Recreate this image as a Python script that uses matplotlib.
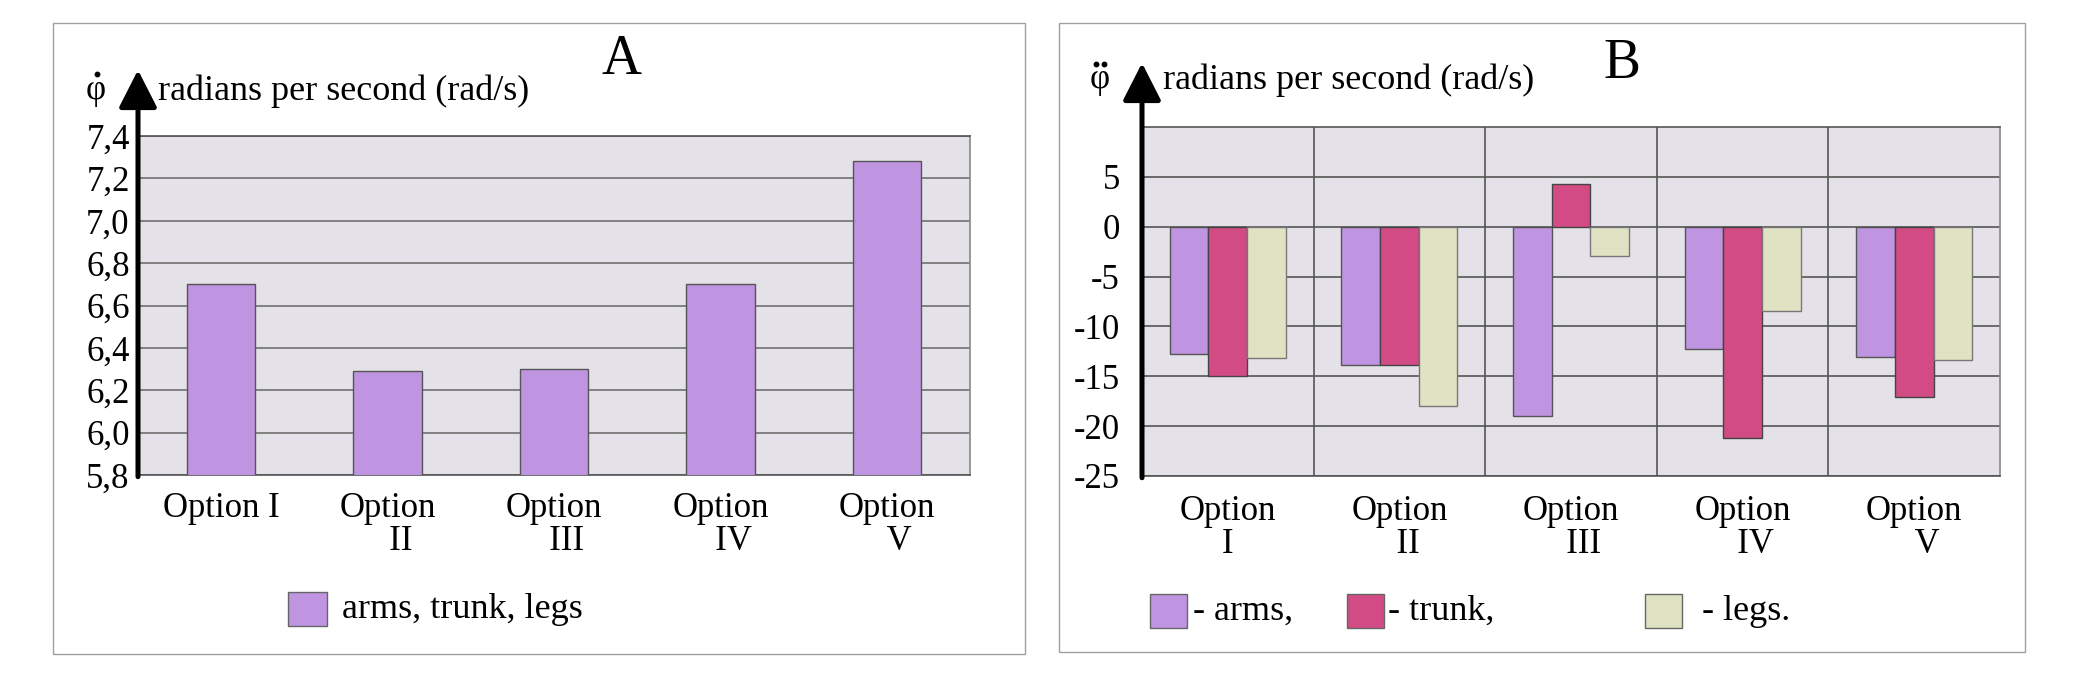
import matplotlib.pyplot as plt
from matplotlib.patches import Rectangle
from matplotlib.lines import Line2D

plt.rcParams['font.family'] = ['Liberation Serif', 'DejaVu Serif']

W, H = 2083, 680

# Panel A data
options_a = ['Option I', 'Option\n   II', 'Option\n   III', 'Option\n   IV', 'Option\n   V']
speed_all = [6.70, 6.29, 6.30, 6.70, 7.28]
yticks_a = [5.8, 6.0, 6.2, 6.4, 6.6, 6.8, 7.0, 7.2, 7.4]
ylabels_a = ['5,8', '6,0', '6,2', '6,4', '6,6', '6,8', '7,0', '7,2', '7,4']

# Panel B data
options_b = ['Option\nI', 'Option\n  II', 'Option\n   III', 'Option\n   IV', 'Option\n   V']
acc_arms = [-12.8, -13.9, -19.0, -12.3, -13.1]
acc_trunk = [-15.0, -13.9, 4.3, -21.2, -17.1]
acc_legs = [-13.2, -18.0, -2.9, -8.5, -13.4]
yticks_b = [5, 0, -5, -10, -15, -20, -25]
ylabels_b = ['5', '0', '-5', '-10', '-15', '-20', '-25']

c_arms = '#bf94e0'
c_trunk = '#d24b85'
c_legs = '#e0e3c3'
bg = '#e4e2e8'
FS = 25


def fx(px):
    return px / W


def fy(py):
    return 1 - py / H


fig = plt.figure(figsize=(W / 100, H / 100), dpi=100)

# frames around both panels
fig.add_artist(Rectangle((fx(53), fy(654)), (1025 - 53) / W, (654 - 23) / H,
                         transform=fig.transFigure, fill=False, ec='#a0a0a0', lw=1))
fig.add_artist(Rectangle((fx(1059), fy(652)), (2025 - 1059) / W, (652 - 23) / H,
                         transform=fig.transFigure, fill=False, ec='#a0a0a0', lw=1))


def style_axes(ax, tip):
    ax.set_facecolor(bg)
    ax.spines['left'].set_visible(False)
    ax.spines['top'].set_color('#555555')
    ax.spines['right'].set_color('#888888')
    ax.spines['bottom'].set_color('#555555')
    for s in ['top', 'right', 'bottom']:
        ax.spines[s].set_linewidth(1.2)
    ax.tick_params(length=0, labelsize=FS)
    ax.annotate('', xy=(0, tip), xytext=(0, -0.005), xycoords='axes fraction',
                arrowprops=dict(arrowstyle='-|>,head_length=0.55,head_width=0.28',
                                lw=3.6, color='black', mutation_scale=42,
                                shrinkA=0, shrinkB=0),
                annotation_clip=False)


def phi_label(x, base, dots_x, dots_y):
    # phi with its time-derivative dots drawn above it
    fig.text(fx(x), fy(base), 'φ', fontsize=FS, ha='center', va='baseline')
    fig.add_artist(Line2D([fx(d) for d in dots_x], [fy(dots_y)] * len(dots_x),
                          transform=fig.transFigure, ls='none', marker='o',
                          ms=3.2, color='black'))


# ---- Panel A ----
axA = fig.add_axes([fx(138), fy(475), (970 - 138) / W, (475 - 136) / H])
style_axes(axA, (475 - 70) / (475 - 136))
xa = range(len(options_a))
axA.bar(xa, speed_all, width=0.41, color=c_arms, edgecolor='#555555', lw=1, zorder=3)
axA.set_xlim(-0.5, 4.5)
axA.set_ylim(5.8, 7.4)
axA.set_yticks(yticks_a)
axA.set_yticklabels(ylabels_a)
axA.yaxis.grid(True, color='#707070', lw=1.2, zorder=0)
axA.set_axisbelow(True)
axA.set_xticks(list(xa))
axA.set_xticklabels(options_a, linespacing=1.0, va='top')
axA.tick_params(axis='x', pad=12)
axA.tick_params(axis='y', pad=6)

fig.text(fx(622), fy(60), 'A', fontsize=40, ha='center', va='center')
phi_label(96, 99, [97], 74)
fig.text(fx(158), fy(91), 'radians per second (rad/s)', fontsize=26, ha='left', va='center')

fig.add_artist(Rectangle((fx(288), fy(626)), 39 / W, 34 / H, transform=fig.transFigure,
                         fc=c_arms, ec='#666666', lw=1))
fig.text(fx(342), fy(610), 'arms, trunk, legs', fontsize=26, ha='left', va='center')

# ---- Panel B ----
axB = fig.add_axes([fx(1142), fy(476), (2000 - 1142) / W, (476 - 127) / H])
style_axes(axB, (476 - 63) / (476 - 127))
xb = list(range(len(options_b)))
bw = 0.225
axB.bar([i - bw for i in xb], acc_arms, width=bw, color=c_arms, edgecolor='#555555', lw=1, zorder=3)
axB.bar(xb, acc_trunk, width=bw, color=c_trunk, edgecolor='#444444', lw=1, zorder=3)
axB.bar([i + bw for i in xb], acc_legs, width=bw, color=c_legs, edgecolor='#777777', lw=1, zorder=3)
axB.set_xlim(-0.5, 4.5)
axB.set_ylim(-25, 10)
axB.set_yticks(yticks_b)
axB.set_yticklabels(ylabels_b)
axB.yaxis.grid(True, color='#555555', lw=1.2, zorder=0)
for b in [0.5, 1.5, 2.5, 3.5]:
    axB.axvline(b, color='#555555', lw=1.2, zorder=1)
axB.set_axisbelow(True)
axB.set_xticks(xb)
axB.set_xticklabels(options_b, linespacing=1.0, va='top')
axB.tick_params(axis='x', pad=14)
axB.tick_params(axis='y', pad=16)

fig.text(fx(1622), fy(64), 'B', fontsize=40, ha='center', va='center')
phi_label(1100, 88, [1096, 1104], 64)
fig.text(fx(1163), fy(80), 'radians per second (rad/s)', fontsize=26, ha='left', va='center')

legend_b = [(1150, c_arms, '- arms,', 1193), (1347, c_trunk, '- trunk,', 1388),
            (1645, c_legs, '- legs.', 1702)]
for px, col, lab, tx in legend_b:
    fig.add_artist(Rectangle((fx(px), fy(628)), 37 / W, 34 / H, transform=fig.transFigure,
                             fc=col, ec='#666666', lw=1))
    fig.text(fx(tx), fy(611), lab, fontsize=26, ha='left', va='center')

fig.savefig('out.png', dpi=100, facecolor='white')
